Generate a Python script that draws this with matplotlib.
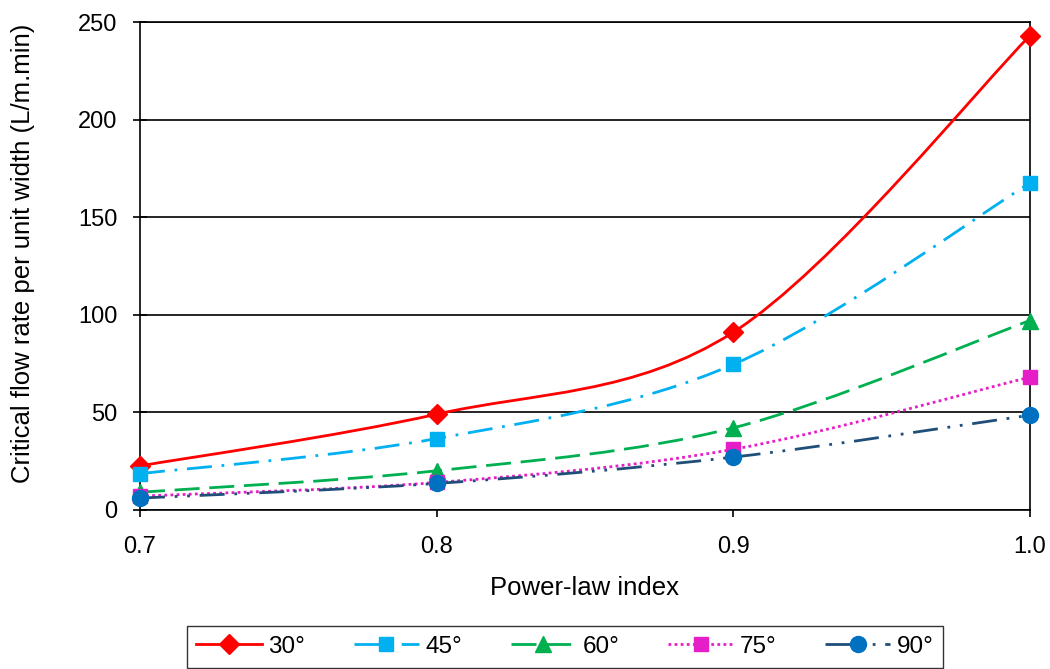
import matplotlib
matplotlib.use("Agg")
import matplotlib.pyplot as plt
from matplotlib.path import Path
from matplotlib.patches import PathPatch
from matplotlib.lines import Line2D
import numpy as np

plt.rcParams['font.family'] = ['Liberation Sans', 'DejaVu Sans']

# data
power_index = [0.7, 0.8, 0.9, 1.0]
labels = ['30°', '45°', '60°', '75°', '90°']
q30 = [22.5, 49, 91, 243]
q45 = [18.5, 36.5, 74.5, 167.5]
q60 = [9, 20, 42, 97]
q75 = [7, 14, 31, 68]
q90 = [6, 13.5, 27, 48.5]
series = [q30, q45, q60, q75, q90]

line_colors = ['#FF0000', '#00B0F0', '#00B050', '#E61EC8', '#1F4E79']
marker_colors = ['#FF0000', '#00B0F0', '#00B050', '#E61EC8', '#0070C0']
markers = ['D', 's', '^', 's', 'o']
msizes = [10, 9.5, 11, 9.5, 11.5]
styles = ['-', (0, (9, 3.5, 1, 3.5)), (0, (9, 3.5)), (0, (1, 1.2)),
          (0, (9, 3.5, 1, 3.5, 1, 3.5))]


def smooth_path(xs, ys):
    # excel-like smoothed line: cubic bezier with catmull-rom control points
    pts = np.column_stack([xs, ys]).astype(float)
    n = len(pts)
    verts = [pts[0]]
    codes = [Path.MOVETO]
    for i in range(n - 1):
        p0 = pts[i - 1] if i > 0 else pts[i]
        p1 = pts[i]
        p2 = pts[i + 1]
        p3 = pts[i + 2] if i + 2 < n else pts[i + 1]
        c1 = p1 + (p2 - p0) / 6.0
        c2 = p2 - (p3 - p1) / 6.0
        verts += [c1, c2, p2]
        codes += [Path.CURVE4] * 3
    return Path(verts, codes)


fig = plt.figure(figsize=(10.5, 6.69), dpi=100)
ax = fig.add_axes([0.1333, 0.238, 0.8476, 0.729])

handles = []
for ys, lab, lc, mc, mk, ms, ls in zip(series, labels, line_colors,
                                       marker_colors, markers, msizes, styles):
    patch = PathPatch(smooth_path(power_index, ys), facecolor='none',
                      edgecolor=lc, lw=2, linestyle=ls, capstyle='butt', zorder=3)
    ax.add_patch(patch)
    ax.plot(power_index, ys, linestyle='none', marker=mk, ms=ms,
            color=mc, clip_on=False, zorder=4)
    handles.append(Line2D([], [], color=lc, lw=2, linestyle=ls, marker=mk,
                          ms=ms, markerfacecolor=mc, markeredgecolor=mc,
                          label=lab))

ax.set_xlim(0.7, 1.0)
ax.set_ylim(0, 250)
ax.set_xticks(power_index)
ax.set_xticklabels(['0.7', '0.8', '0.9', '1.0'])
ax.set_yticks([0, 50, 100, 150, 200, 250])
ax.yaxis.grid(True, color='black', lw=1.2)
ax.set_axisbelow(True)
for s in ax.spines.values():
    s.set_linewidth(1.2)
ax.tick_params(axis='y', direction='inout', length=10, width=1.2,
               labelsize=17, pad=11)
ax.tick_params(axis='x', direction='out', length=5, width=1.2,
               labelsize=17, pad=14)
ax.set_xlabel('Power-law index', fontsize=18.5, labelpad=13)
ax.set_ylabel('Critical flow rate per unit width (L/m.min)', fontsize=18.5)
ax.yaxis.set_label_coords(-0.118, 0.525)

leg = fig.legend(handles=handles, loc='upper center', ncol=5,
                 bbox_to_anchor=(0.538, 0.064), fontsize=17.5, frameon=True,
                 fancybox=False, edgecolor='black', handlelength=2.7,
                 columnspacing=2.0, handletextpad=0.25, borderpad=0.4,
                 borderaxespad=0)
leg.get_frame().set_linewidth(1.0)

fig.savefig('out.png', dpi=100)
